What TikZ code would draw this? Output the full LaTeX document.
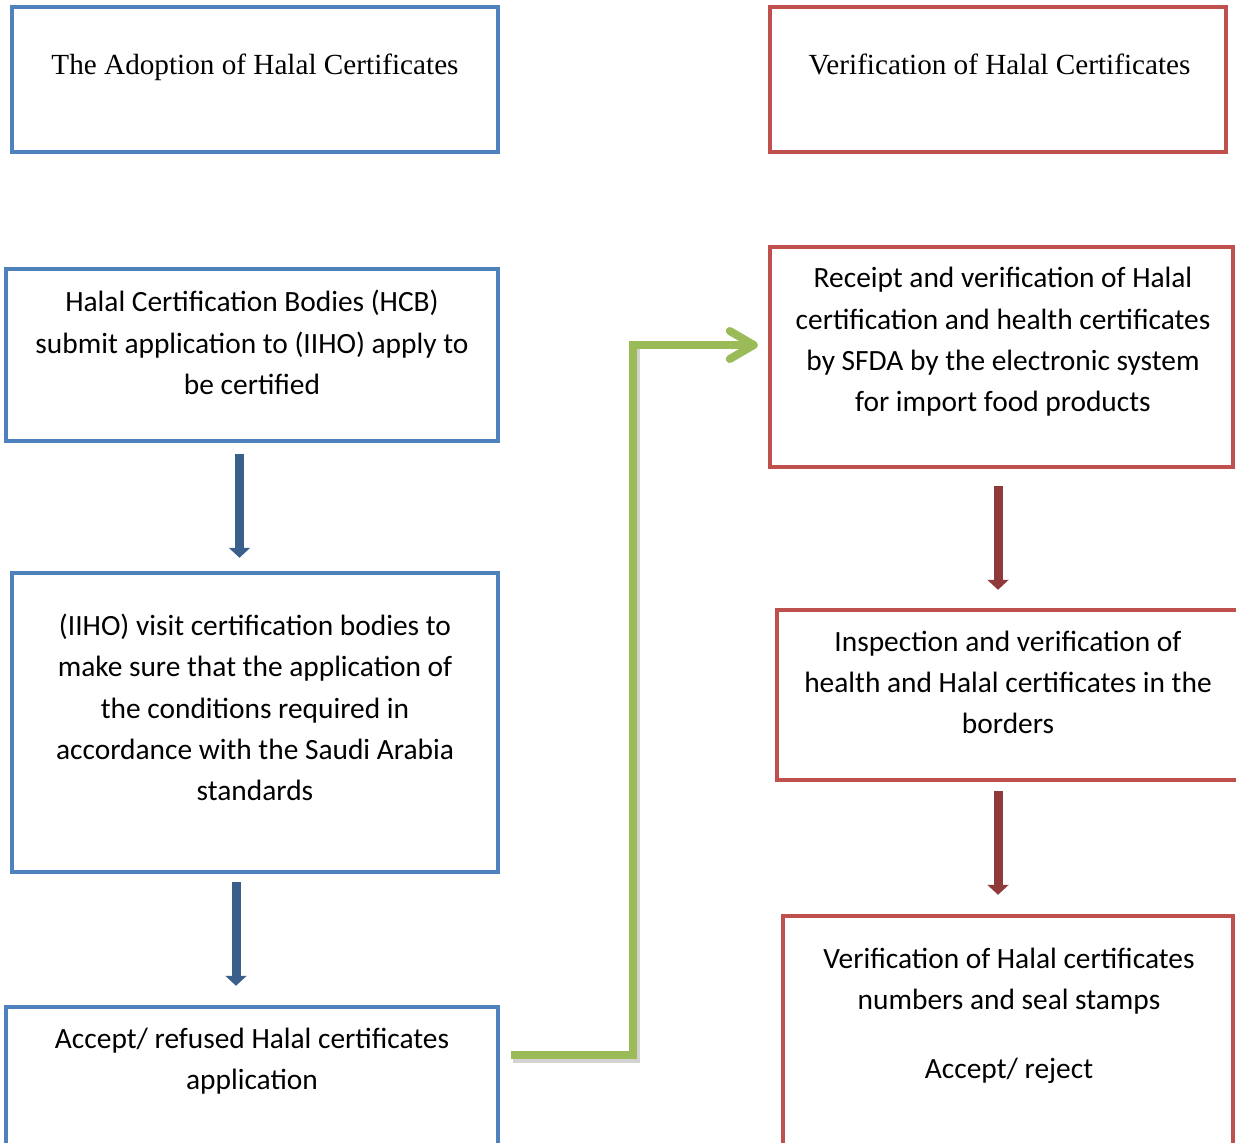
\documentclass[tikz,border=0pt]{standalone}
\usepackage{fontspec}
\setmainfont{Carlito}
\newfontfamily\headfont{Liberation Serif}
\usepackage{tikz}
\usetikzlibrary{arrows.meta}
\usetikzlibrary{positioning,fit,calc}
\definecolor{boxblue}{HTML}{4F81BD}
\definecolor{boxred}{HTML}{C0504D}
\definecolor{arrowblue}{HTML}{3A5F8B}
\definecolor{arrowred}{HTML}{8E3A3A}
\definecolor{linkgreen}{HTML}{9BBB59}

\begin{document}
\begin{tikzpicture}[x=0.5pt,y=-0.5pt,
  bluebox/.style={draw=boxblue,line width=2.25pt,inner sep=0pt},
  redbox/.style={draw=boxred,line width=2.25pt,inner sep=0pt},
  headtxt/.style={font=\headfont\fontsize{14.6}{17}\selectfont,anchor=base,inner sep=0pt},
  bodytxt/.style={font=\fontsize{14.7}{20.65}\selectfont,align=center,inner sep=0pt},
  bluearrow/.style={draw=arrowblue,line width=4.5pt,-{Triangle[length=5pt,width=10.5pt]}},
  redarrow/.style={draw=arrowred,line width=4.5pt,-{Triangle[length=5pt,width=10.5pt]}},
  greenlink/.style={draw=linkgreen,line width=4pt,-{Straight Barb[length=12pt,width=14pt,round]}}]
\useasboundingbox (0,0) rectangle (1236,1142);

% left column
\node[bluebox,fit={(12,7) (498,152)}] (adopt) {};
\node[headtxt] (adopt-t) at (255,74) {The Adoption of Halal Certificates};
\node[bluebox,fit={(6,269) (498,441)}] (hcb) {};
\node[bodytxt] (hcb-t) at (252,342.5) {Halal Certification Bodies (HCB)\\ submit application to (IIHO) apply to\\ be certified};
\node[bluebox,fit={(12,573) (498,872)}] (visit) {};
\node[bodytxt] (visit-t) at (255,707.5) {(IIHO) visit certification bodies to\\ make sure that the application of\\ the conditions required in\\ accordance with the Saudi Arabia\\ standards};
\node[bluebox,fit={(6,1007) (498,1160)}] (accept) {};
\node[bodytxt] (accept-t) at (252,1061) {Accept/ refused Halal certificates\\ application};

% right column
\node[redbox,fit={(770,7) (1226,152)}] (verif) {};
\node[headtxt] (verif-t) at (999.5,74) {Verification of Halal Certificates};
\node[redbox,fit={(770,247) (1233,467)}] (receipt) {};
\node[bodytxt] (receipt-t) at (1003,342) {Receipt and verification of Halal\\ certification and health certificates\\ by SFDA by the electronic system\\ for import food products};
\node[redbox,fit={(777,610) (1242,780)}] (inspect) {};
\node[bodytxt] (inspect-t) at (1008,682.5) {Inspection and verification of\\ health and Halal certificates in the\\ borders};
\node[redbox,fit={(783,916) (1233,1160)}] (stamp) {};
\node[bodytxt] (stamp-t) at (1009,1015.5) {Verification of Halal certificates\\ numbers and seal stamps\\[13.5pt] Accept/ reject};

% arrows
\draw[bluearrow] ($(hcb.south)+(-12.5,11)$) -- ($(visit.north)+(-15.5,-13)$);
\draw[bluearrow] ($(visit.south)+(-19,8)$) -- ($(accept.north)+(-16,-19)$);
\draw[redarrow] ($(receipt.south)+(-3.5,17)$) -- ($(inspect.north)+(-11.5,-18)$);
\draw[redarrow] ($(inspect.south)+(-11.5,9)$) -- ($(stamp.north)+(-10,-19)$);

\coordinate (gstart) at ($(accept.north east)+(11,50)$);
\coordinate (gend) at ($(receipt.west)+(-10,-12)$);
\draw[gray,opacity=0.35,line width=4pt] ($(gstart)+(2,4)$) -| ($(gend)+(-122,4)$);
\draw[greenlink] (gstart) -| ($(gend)+(-125,0)$) -- (gend);
\end{tikzpicture}
\end{document}
